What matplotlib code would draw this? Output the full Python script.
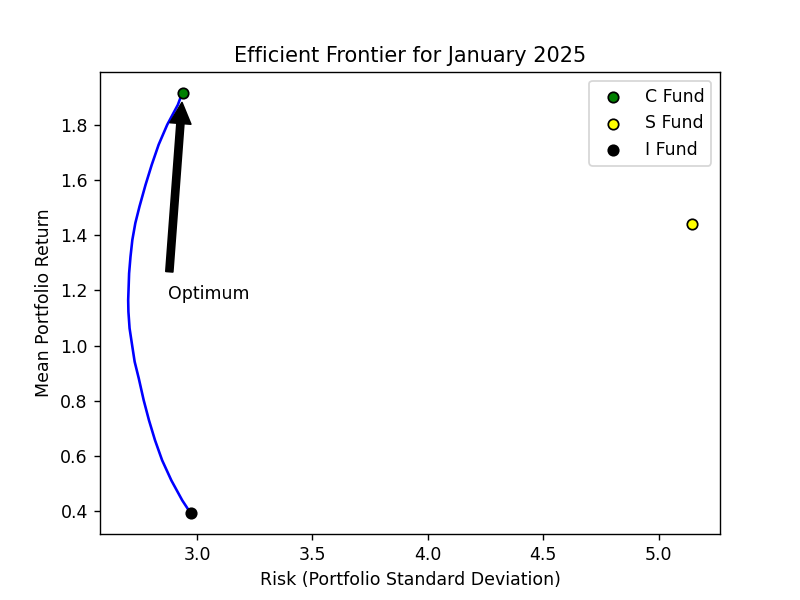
import matplotlib
matplotlib.use("Agg")
import matplotlib.pyplot as plt

# efficient frontier (risk, mean return)
frontier_risk = [2.936, 2.917, 2.871, 2.834, 2.804, 2.777, 2.751, 2.733,
                 2.720, 2.712, 2.706, 2.702, 2.703, 2.708, 2.719, 2.730,
                 2.748, 2.769, 2.792, 2.818, 2.849, 2.889, 2.936, 2.972]
frontier_return = [1.915, 1.872, 1.800, 1.728, 1.655, 1.582, 1.504, 1.444,
                   1.383, 1.322, 1.262, 1.165, 1.123, 1.063, 1.002, 0.942,
                   0.881, 0.803, 0.730, 0.658, 0.585, 0.512, 0.440, 0.394]

fund_names = ["C Fund", "S Fund", "I Fund"]
fund_risk = [2.938, 5.143, 2.972]
fund_return = [1.915, 1.441, 0.394]
fund_colors = ["green", "yellow", "black"]

optimum_xy = (2.938, 1.915)
optimum_text_xy = (2.876, 1.17)

fig, ax = plt.subplots(figsize=(6.4, 4.8), dpi=125)
ax.plot(frontier_risk, frontier_return, color="blue")
for name, r, m, c in zip(fund_names, fund_risk, fund_return, fund_colors):
    ax.scatter(r, m, color=c, edgecolors="black", label=name, zorder=3)

ax.annotate("Optimum", xy=optimum_xy, xytext=optimum_text_xy,
            arrowprops=dict(facecolor="black", shrink=0.05))

ax.set_title("Efficient Frontier for January 2025")
ax.set_xlabel("Risk (Portfolio Standard Deviation)")
ax.set_ylabel("Mean Portfolio Return")
ax.legend()
fig.savefig("out.png")
